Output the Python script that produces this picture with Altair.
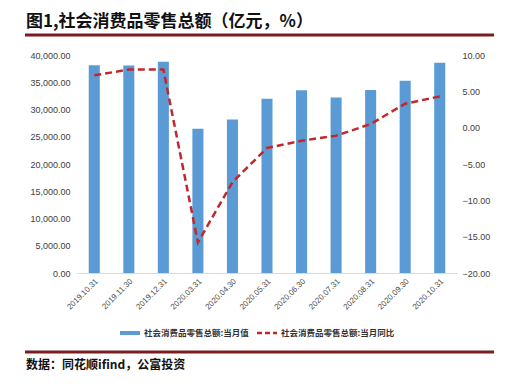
import altair as alt
import pandas as pd

dates = ["2019.10.31", "2019.11.30", "2019.12.31", "2020.03.31", "2020.04.30",
         "2020.05.31", "2020.06.30", "2020.07.31", "2020.08.31", "2020.09.30", "2020.10.31"]
monthly = [38104, 38094, 38777, 26450, 28178, 31973, 33526, 32203, 33571, 35295, 38576]
yoy = [7.2, 8.0, 8.0, -15.8, -7.5, -2.8, -1.8, -1.1, 0.5, 3.3, 4.3]

title_text = "图1,社会消费品零售总额（亿元，%）"
source_text = "数据：同花顺ifind，公富投资"
legend_bar = "社会消费品零售总额:当月值"
legend_line = "社会消费品零售总额:当月同比"

df = pd.DataFrame({"date": dates, "monthly": monthly, "yoy": yoy})

xenc = alt.X("date:N", sort=None, title=None,
             scale=alt.Scale(paddingInner=0.68, paddingOuter=0.34),
             axis=alt.Axis(labelAngle=-45, labelFontSize=8, labelColor="#4d4d4d",
                           domainColor="#d9d9d9", ticks=False, labelPadding=4,
                           labelFont="Liberation Sans"))

bars = alt.Chart(df).mark_bar(color="#5B9BD5").encode(
    x=xenc,
    y=alt.Y("monthly:Q", title=None,
            scale=alt.Scale(domain=[0, 40000], nice=False),
            axis=alt.Axis(values=list(range(0, 40001, 5000)), format=",.2f",
                          domain=False, ticks=False, grid=False, labelPadding=7,
                          labelFontSize=9, labelColor="#404040",
                          labelFont="Liberation Sans"))
)

line = alt.Chart(df).mark_line(color="#C0282C", strokeDash=[7, 4], strokeWidth=2.5).encode(
    x=xenc,
    y=alt.Y("yoy:Q", title=None,
            scale=alt.Scale(domain=[-20, 10], nice=False),
            axis=alt.Axis(orient="right", values=[-20, -15, -10, -5, 0, 5, 10], format=".2f",
                          domain=False, ticks=False, grid=False, labelPadding=5,
                          labelFontSize=9, labelColor="#404040",
                          labelFont="Liberation Sans"))
)

one = pd.DataFrame({"k": [0]})

title = alt.Chart(one).mark_text(align="left", baseline="middle", fontSize=17,
                                 fontWeight="bold", font="Noto Sans CJK SC", color="#111111").encode(
    x=alt.value(-51), y=alt.value(-33), text=alt.value(title_text))
title_rule = alt.Chart(one).mark_rule(color="#7B1C1F", strokeWidth=3).encode(
    x=alt.value(-52), x2=alt.value(417), y=alt.value(-20))
bottom_rule = alt.Chart(one).mark_rule(color="#7B1C1F", strokeWidth=3).encode(
    x=alt.value(-52), x2=alt.value(417), y=alt.value(297))
source = alt.Chart(one).mark_text(align="left", baseline="middle", fontSize=12,
                                  fontWeight="bold", font="Noto Sans CJK SC", color="#111111").encode(
    x=alt.value(-51), y=alt.value(310), text=alt.value(source_text))

leg_rect = alt.Chart(one).mark_rect(color="#5B9BD5").encode(
    x=alt.value(43), x2=alt.value(63), y=alt.value(276), y2=alt.value(280))
leg_t1 = alt.Chart(one).mark_text(align="left", baseline="middle", fontSize=8.5,
                                  fontWeight="bold", font="Noto Sans CJK SC", color="#333333").encode(
    x=alt.value(67), y=alt.value(278), text=alt.value(legend_bar))
leg_line = alt.Chart(one).mark_rule(color="#C0282C", strokeWidth=2.5, strokeDash=[5, 3]).encode(
    x=alt.value(180), x2=alt.value(200), y=alt.value(278))
leg_t2 = alt.Chart(one).mark_text(align="left", baseline="middle", fontSize=8.5,
                                  fontWeight="bold", font="Noto Sans CJK SC", color="#333333").encode(
    x=alt.value(204), y=alt.value(278), text=alt.value(legend_line))

chart = alt.layer(bars, line, title, title_rule, bottom_rule, source,
                  leg_rect, leg_t1, leg_line, leg_t2).resolve_scale(
    y="independent"
).properties(
    width=380, height=218,
    autosize=alt.AutoSizeParams(type="none"),
    padding={"left": 69, "top": 47, "right": 47, "bottom": 100},
    background="white"
).configure_view(stroke=None)

chart.save("out.html", embed_options={"renderer": "svg", "actions": False})
